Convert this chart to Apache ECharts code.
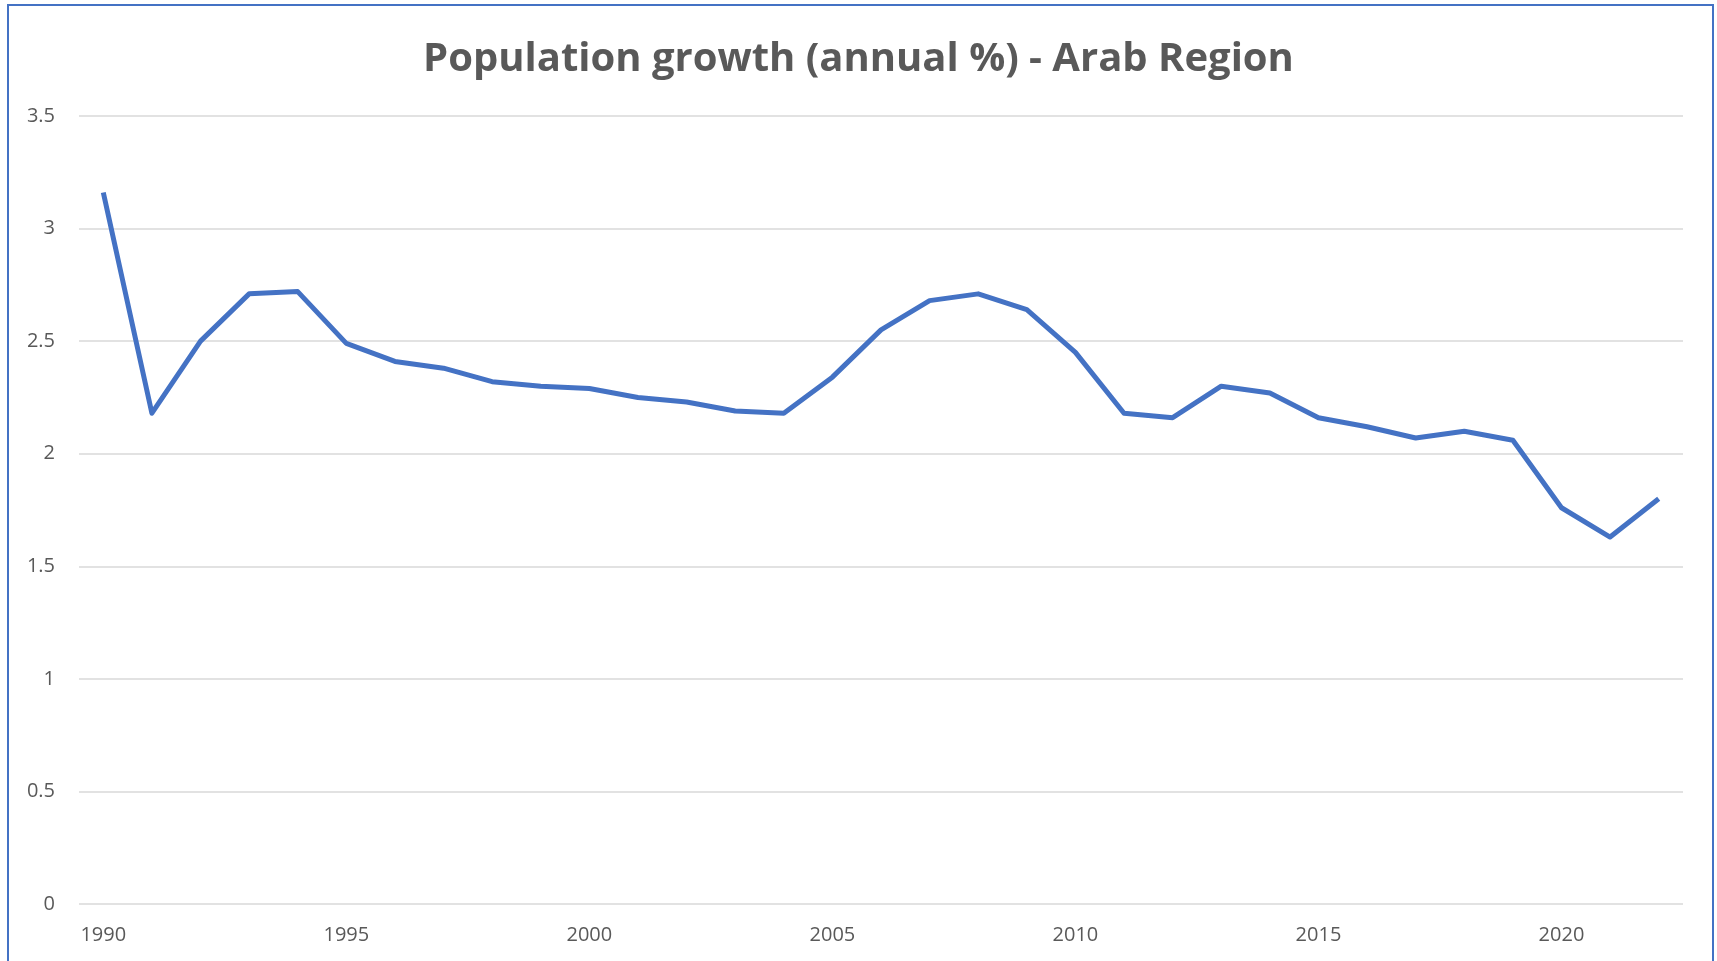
<!DOCTYPE html>
<html>
<head>
<meta charset="utf-8">
<script src="https://cdn.jsdelivr.net/npm/echarts@6/dist/echarts.min.js"></script>
<style>
  html, body { margin: 0; padding: 0; background: #fff; }
  #chart { width: 1717px; height: 961px; }
  .frame {
    position: absolute;
    left: 7px; top: 4px;
    width: 1703px; height: 1000px;
    border: 2px solid #4472c4;
    pointer-events: none;
  }
</style>
</head>
<body>
<div id="chart"></div>
<div class="frame"></div>
<script>
// years 1990 - 2022
var years = ['1990', '1991', '1992', '1993', '1994', '1995', '1996', '1997', '1998', '1999',
  '2000', '2001', '2002', '2003', '2004', '2005', '2006', '2007', '2008', '2009',
  '2010', '2011', '2012', '2013', '2014', '2015', '2016', '2017', '2018', '2019',
  '2020', '2021', '2022']
// population growth, annual %
var growth = [3.16, 2.18, 2.50, 2.71, 2.72, 2.49, 2.41, 2.38, 2.32, 2.30,
  2.29, 2.25, 2.23, 2.19, 2.18, 2.34, 2.55, 2.68, 2.71, 2.64,
  2.45, 2.18, 2.16, 2.30, 2.27, 2.16, 2.12, 2.07, 2.10, 2.06,
  1.76, 1.63, 1.80]

var myChart = echarts.init(document.getElementById('chart'))
myChart.setOption({
  animation: false,
  title: {
    text: 'Population growth (annual %) - Arab Region',
    left: 'center',
    top: 35,
    textStyle: {
      fontFamily: 'Open Sans',
      fontWeight: 'bold',
      fontSize: 40,
      color: '#595959'
    }
  },
  grid: {
    left: 79,
    right: 34,
    top: 116,
    bottom: 57
  },
  xAxis: {
    type: 'category',
    data: years,
    boundaryGap: true,
    axisLine: { show: false },
    axisTick: { show: false },
    axisLabel: {
      interval: 4,
      margin: 21,
      fontFamily: 'Open Sans',
      fontSize: 20,
      color: '#595959'
    }
  },
  yAxis: {
    type: 'value',
    min: 0,
    max: 3.5,
    interval: 0.5,
    axisLine: { show: false },
    axisTick: { show: false },
    axisLabel: {
      margin: 24,
      fontFamily: 'Open Sans',
      fontSize: 20,
      color: '#595959'
    },
    splitLine: {
      lineStyle: { color: '#d9d9d9', width: 1.5 }
    }
  },
  series: [{
    name: 'Population growth',
    type: 'line',
    data: growth,
    showSymbol: false,
    symbol: 'none',
    lineStyle: { color: '#4472c4', width: 5, join: 'round' }
  }]
})
</script>
</body>
</html>
